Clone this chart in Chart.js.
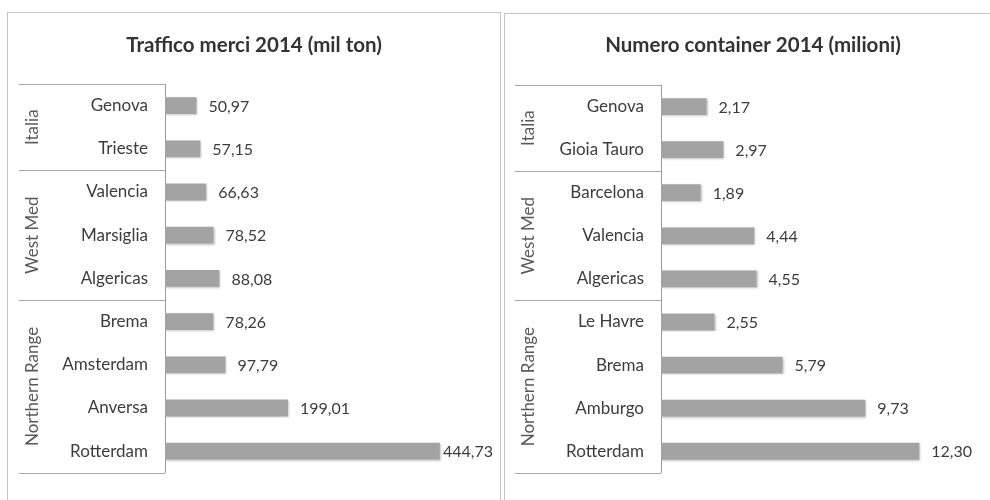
<!DOCTYPE html>
<html lang="it">
<head>
  <meta charset="UTF-8" />
  <title>Traffico merci e container 2014</title>
  <script src="https://cdn.jsdelivr.net/npm/chart.js"></script>
  <style>
    html, body { margin: 0; padding: 0; background: #fff; }
    body { width: 990px; height: 500px; overflow: hidden; position: relative; }
    .panel { position: absolute; border: 1px solid #c4c4c4; background: #fff; overflow: hidden; }
    #panelLeft { left: 7px; top: 12px; width: 492px; height: 500px; }
    #panelRight { left: 504px; top: 13px; width: 500px; height: 500px; }
    canvas { display: block; }
  </style>
</head>
<body>
  <div id="panelLeft" class="panel"><canvas id="chartMerci" width="492" height="487"></canvas></div>
  <div id="panelRight" class="panel"><canvas id="chartContainer" width="496" height="486"></canvas></div>

  <script>
    // dati
    const groupNames = ['Italia', 'West Med', 'Northern Range'];
    const groupSizes = [2, 3, 4];

    const merciPorts = ['Genova', 'Trieste', 'Valencia', 'Marsiglia', 'Algericas', 'Brema', 'Amsterdam', 'Anversa', 'Rotterdam'];
    const merciValues = [50.97, 57.15, 66.63, 78.52, 88.08, 78.26, 97.79, 199.01, 444.73];

    const containerPorts = ['Genova', 'Gioia Tauro', 'Barcelona', 'Valencia', 'Algericas', 'Le Havre', 'Brema', 'Amburgo', 'Rotterdam'];
    const containerValues = [2.17, 2.97, 1.89, 4.44, 4.55, 2.55, 5.79, 9.73, 12.30];

    const FONT = "Lato, 'Open Sans', sans-serif";
    const TEXT = '#3c3c3c';

    function fmt(v) {
      return v.toFixed(2).replace('.', ',');
    }

    // etichette valore a destra delle barre
    const valueLabels = {
      id: 'valueLabels',
      afterDatasetsDraw(chart, args, opts) {
        const ctx = chart.ctx;
        const meta = chart.getDatasetMeta(0);
        const data = chart.data.datasets[0].data;
        ctx.save();
        ctx.font = '16px ' + FONT;
        ctx.fillStyle = TEXT;
        ctx.textBaseline = 'middle';
        ctx.textAlign = 'left';
        meta.data.forEach((bar, i) => {
          const txt = fmt(data[i]);
          const w = ctx.measureText(txt).width;
          let x = bar.x + opts.offset;
          if (x + w > chart.width - 7) x = Math.max(bar.x + 1, chart.width - 7 - w);
          ctx.fillText(txt, x, bar.y + 1);
        });
        ctx.restore();
      }
    };

    // riquadro dei gruppi sull'asse delle categorie
    const groupBox = {
      id: 'groupBox',
      afterDraw(chart, args, opts) {
        const ctx = chart.ctx;
        const y = chart.scales.y;
        const axisX = chart.chartArea.left;
        const startX = axisX - opts.width;
        ctx.save();
        ctx.strokeStyle = '#a8a8a8';
        ctx.lineWidth = 1;
        let idx = 0;
        const bounds = [y.getPixelForValue(-0.5)];
        groupSizes.forEach(n => {
          idx += n;
          bounds.push(y.getPixelForValue(idx - 0.5));
        });
        bounds.forEach(py => {
          const yy = Math.round(py) + 0.5;
          ctx.beginPath();
          ctx.moveTo(startX, yy);
          ctx.lineTo(axisX, yy);
          ctx.stroke();
        });
        ctx.font = '17px ' + FONT;
        ctx.fillStyle = '#5a5a5a';
        ctx.textAlign = 'center';
        ctx.textBaseline = 'middle';
        groupNames.forEach((name, g) => {
          const cy = (bounds[g] + bounds[g + 1]) / 2;
          ctx.save();
          ctx.translate(axisX - opts.labelOffset, cy);
          ctx.rotate(-Math.PI / 2);
          ctx.fillText(name, 0, 0);
          ctx.restore();
        });
        ctx.restore();
      }
    };

    // leggera ombra sotto le barre
    const barShadow = {
      id: 'barShadow',
      beforeDatasetsDraw(chart) {
        const ctx = chart.ctx;
        ctx.save();
        ctx.shadowColor = 'rgba(0,0,0,0.22)';
        ctx.shadowBlur = 2;
        ctx.shadowOffsetX = 1;
        ctx.shadowOffsetY = 1;
      },
      afterDatasetsDraw(chart) {
        chart.ctx.restore();
      }
    };

    // side: margine uguale a sinistra e a destra, cosi' il titolo resta centrato nel riquadro
    function makeChart(id, title, labels, values, max, axisWidth, side, bottom, titlePad) {
      return new Chart(document.getElementById(id), {
        type: 'bar',
        data: {
          labels: labels,
          datasets: [{
            data: values,
            backgroundColor: '#a3a3a3',
            borderWidth: 0,
            barPercentage: 0.39,
            categoryPercentage: 1
          }]
        },
        options: {
          indexAxis: 'y',
          responsive: false,
          animation: false,
          layout: { padding: { top: 0, right: side, bottom: bottom, left: side } },
          plugins: {
            legend: { display: false },
            tooltip: { enabled: false },
            title: {
              display: true,
              text: title,
              color: '#333',
              font: { family: FONT, size: 20.5, weight: 'bold', lineHeight: 1.2 },
              padding: titlePad
            },
            valueLabels: { offset: 12 },
            groupBox: { width: 146, labelOffset: 132 }
          },
          scales: {
            x: { display: false, min: 0, max: max },
            y: {
              grid: { display: false, drawTicks: false },
              border: { display: true, color: '#9a9a9a', width: 1 },
              ticks: {
                color: TEXT,
                padding: 17,
                font: { family: FONT, size: 17 }
              },
              afterFit(scale) { scale.width = axisWidth - side; }
            }
          }
        },
        plugins: [barShadow, valueLabels, groupBox]
      });
    }

    document.addEventListener('DOMContentLoaded', () => {
      makeChart('chartMerci', 'Traffico merci 2014 (mil ton)', merciPorts, merciValues, 500,
        157, 26, 21, { top: 20, bottom: 26.4 });
      makeChart('chartContainer', 'Numero container 2014 (milioni)', containerPorts, containerValues, 14,
        156, 46, 20, { top: 19, bottom: 27.4 });
    });
  </script>
</body>
</html>
